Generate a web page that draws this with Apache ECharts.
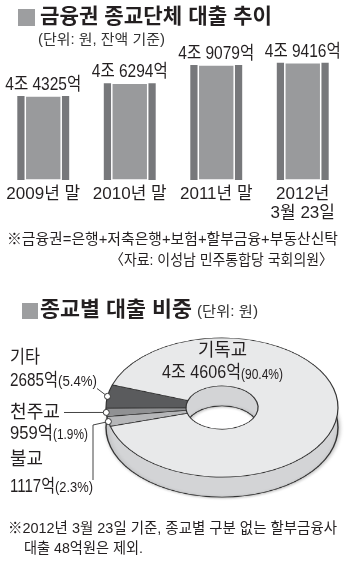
<!DOCTYPE html>
<html><head><meta charset="utf-8">
<script src="https://cdn.jsdelivr.net/npm/echarts@6/dist/echarts.min.js"></script>
<style>
html,body{margin:0;padding:0;background:#fff;}
#wrap{position:relative;width:350px;height:572px;overflow:hidden;background:#fff;}
#pie{position:absolute;left:0;top:300px;width:350px;height:340px;transform:scaleY(0.6);transform-origin:0 0;}
#main{position:absolute;left:0;top:0;width:350px;height:572px;}
</style></head><body>
<div id="wrap"><div id="pie"></div><div id="main"></div></div>
<script>
// ---- data ----
const years = ['2009년 말', '2010년 말', '2011년 말', '2012년\n3월 23일'];
const loans = [44325, 46294, 49079, 49416]; // 억원
const religions = ['기타', '천주교', '불교', '기독교'];
const religionLoans = [2685, 959, 1117, 44606]; // 억원
const religionShares = [5.4, 1.9, 2.3, 90.4]; // %

// ---- helpers ----
const FAM = "'Liberation Sans', 'Noto Sans CJK KR', sans-serif";
const TXT = '#231f20';
const mctx = document.createElement('canvas').getContext('2d');
function mw(text, font) { mctx.font = font; return mctx.measureText(text).width; }
function fmt(v) { return v >= 10000 ? Math.floor(v / 10000) + '조 ' + (v % 10000) + '억' : v + '억'; }
function T(text, x, y, size, targetW, opt) {
  opt = opt || {};
  const font = (opt.bold ? 'bold ' : 'normal ') + size + 'px ' + (opt.fam || FAM);
  const sx = targetW ? targetW / mw(text, font) : 1;
  return { type: 'text', x: x, y: y, scaleX: sx, z: 20, silent: true,
    style: { text: text, font: font, fill: opt.color || TXT, align: 'left', verticalAlign: 'middle' } };
}
// narrow font availability for axis labels
const hasNarrow = mw('2009 2010', "18px 'Liberation Sans Narrow', monospace") !== mw('2009 2010', '18px monospace');
const axisFam = hasNarrow ? "'Liberation Sans Narrow', 'Noto Sans CJK KR', sans-serif" : FAM;
const axisSize = hasNarrow ? 19 : 17;

// ---- pie (3D ellipse via vertical scaling) ----
const PIE_S = 0.6, PIE_TOP = 300;
const pcx = 222, pcyPage = 407.5, depth = 20, rOut = 116, rIn = 36;
const pcyLocal = (pcyPage - PIE_TOP) / PIE_S;
const sliceColors = ['#5a5b5d', '#909193', '#b6b7b9', '#e8e9ea'];
const total = religionLoans.reduce((a, b) => a + b, 0);
const START = 161;

const pieChart = echarts.init(document.getElementById('pie'), null, { renderer: 'canvas' });
pieChart.setOption({
  backgroundColor: 'transparent', animation: false,
  series: [
    { type: 'pie', silent: true, center: [pcx, pcyLocal + depth / PIE_S], radius: [rIn, rOut],
      label: { show: false }, labelLine: { show: false }, z: 1,
      data: [{ value: total, name: 'side', itemStyle: { color: '#d3d4d6' } }],
      itemStyle: { borderColor: '#333', borderWidth: 1.4, shadowBlur: 4, shadowColor: 'rgba(0,0,0,0.25)', shadowOffsetX: 1, shadowOffsetY: 1 } },
    { type: 'pie', silent: true, center: [pcx, pcyLocal], radius: [rIn, rOut],
      startAngle: START, clockwise: false, z: 2,
      label: { show: false }, labelLine: { show: false },
      data: religions.map((n, i) => ({ name: n, value: religionLoans[i], itemStyle: { color: sliceColors[i] } })),
      itemStyle: { borderColor: '#333', borderWidth: 1.2 } }
  ]
});

// dot positions at slice mid-angles
const dots = [];
let acc = 0;
religionLoans.forEach((v) => {
  const a0 = START + acc / total * 360;
  acc += v;
  const a1 = START + acc / total * 360;
  const m = (a0 + a1) / 2 * Math.PI / 180;
  dots.push([pcx + rOut * Math.cos(m), pcyPage - rOut * PIE_S * Math.sin(m)]);
});

// ---- main chart ----
const main = echarts.init(document.getElementById('main'), null, { renderer: 'canvas' });
const YMIN = 31500, YMAX = 50000;
const barFont = 'normal 18px ' + FAM;
const barScale = 76 / mw(fmt(loans[0]), barFont);

function renderBar(params, api) {
  const i = api.value(0), v = api.value(1);
  const top = api.coord([i, v]);
  const base = api.coord([i, YMIN]);
  const bw = api.size([1, 0])[0] * 0.6;
  const x0 = top[0] - bw / 2;
  const h = base[1] - top[1];
  return { type: 'group', children: [
    { type: 'rect', shape: { x: x0, y: top[1], width: bw, height: h }, style: { fill: '#77787b' } },
    { type: 'rect', shape: { x: x0 + 8, y: top[1], width: bw - 16, height: h }, style: { fill: '#999a9c', stroke: '#ffffff', lineWidth: 1.5 } },
    { type: 'text', x: top[0], y: top[1] - 11, scaleX: barScale,
      style: { text: fmt(v), font: barFont, fill: TXT, align: 'center', verticalAlign: 'middle' } }
  ]};
}

const g = [];
g.push({ type: 'rect', shape: { x: 18, y: 9, width: 17, height: 17 }, style: { fill: '#9d9ea0' } });
g.push(T('금융권 종교단체 대출 추이', 40, 17.5, 21, 232, { bold: true }));
g.push(T('(단위: 원, 잔액 기준)', 38, 40, 14, 127, { color: '#333' }));
g.push(T('※금융권=은행+저축은행+보험+할부금융+부동산신탁', 7, 239.5, 15, 331));
g.push(T('〈자료: 이성남 민주통합당 국회의원〉', 110, 261, 15, 223));
g.push({ type: 'rect', shape: { x: 22, y: 303, width: 16, height: 16 }, style: { fill: '#9d9ea0' } });
g.push(T('종교별 대출 비중', 40, 310.5, 21, 152, { bold: true }));
g.push(T('(단위: 원)', 197, 312, 14, 61, { color: '#333' }));

// pie labels
const share = (i) => '(' + religionShares[i] + '%)';
g.push(T(religions[0], 10, 358.5, 18, 30));
g.push(T(fmt(religionLoans[0]), 10, 381, 18, 48));
g.push(T(share(0), 58, 382.5, 14, 39));
g.push(T(religions[1], 10, 413.5, 18, 50));
g.push(T(fmt(religionLoans[1]), 10, 434, 18, 43));
g.push(T(share(1), 53, 435.5, 14, 35));
g.push(T(religions[2], 10, 460, 18, 33));
g.push(T(fmt(religionLoans[2]), 10, 487, 18, 45));
g.push(T(share(2), 55, 488.5, 14, 38));
g.push(T(religions[3], 198, 351.5, 18, 49));
g.push(T(fmt(religionLoans[3]), 162, 373.5, 18, 79));
g.push(T(share(3), 241, 375, 14, 42));

// leader lines + dots
const lineStyle = { stroke: '#444', lineWidth: 1, fill: null };
g.push({ type: 'polyline', shape: { points: [[97, 388.5], dots[0]] }, style: lineStyle, z: 15 });
g.push({ type: 'polyline', shape: { points: [[64, 412.5], dots[1]] }, style: lineStyle, z: 15 });
g.push({ type: 'polyline', shape: { points: [dots[2], [93, 425], [93, 480]] }, style: lineStyle, z: 15 });
[0, 1, 2].forEach((i) => {
  g.push({ type: 'circle', shape: { cx: dots[i][0], cy: dots[i][1], r: 3 }, style: { fill: '#fff', stroke: '#333', lineWidth: 1 }, z: 16 });
});

// bottom footnote
g.push(T('※2012년 3월 23일 기준, 종교별 구분 없는 할부금융사', 8, 528.5, 15, 329));
g.push(T('대출 48억원은 제외.', 24, 549, 15, 119));

main.setOption({
  backgroundColor: 'transparent', animation: false,
  grid: { left: 0, right: 4, top: 59, bottom: 392 },
  xAxis: { type: 'category', data: years,
    axisLine: { show: false }, axisTick: { show: false }, splitLine: { show: false },
    axisLabel: { interval: 0, margin: 5, fontSize: axisSize, lineHeight: 19,
      fontFamily: axisFam, color: TXT } },
  yAxis: { type: 'value', min: YMIN, max: YMAX, show: false },
  series: [{ type: 'custom', renderItem: renderBar, clip: false, encode: { x: 0, y: 1 },
    data: loans.map((v, i) => [i, v]) }],
  graphic: { elements: g }
});
</script>
</body></html>
